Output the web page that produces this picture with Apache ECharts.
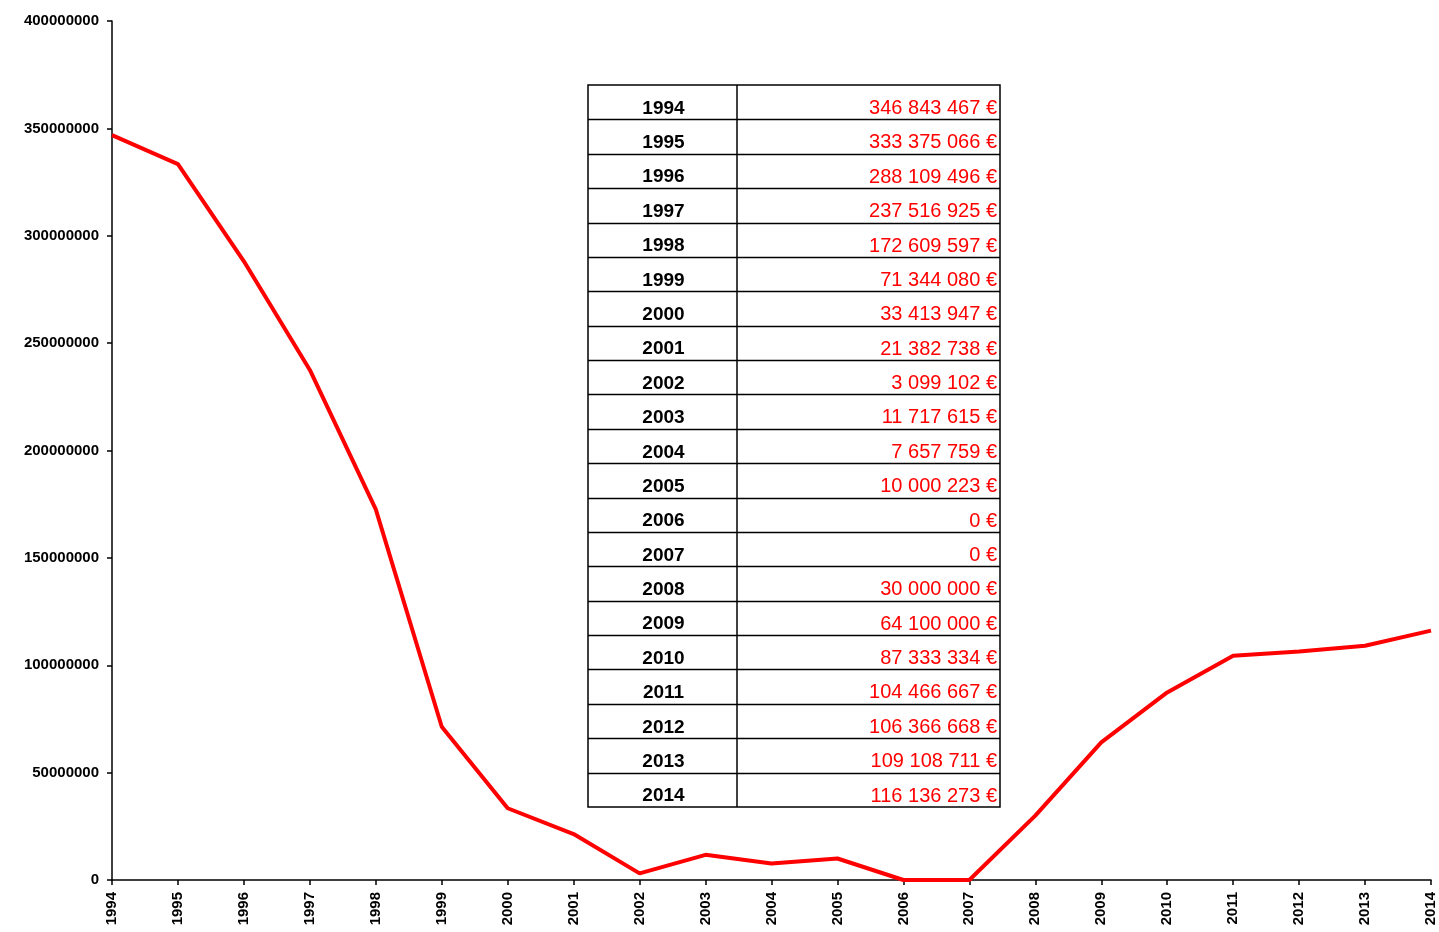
<!DOCTYPE html>
<html>
<head>
<meta charset="utf-8">
<script src="https://cdn.jsdelivr.net/npm/echarts@6/dist/echarts.min.js"></script>
<style>html,body{margin:0;padding:0;background:#fff;}#main{width:1439px;height:932px;}</style>
</head>
<body>
<div id="main"></div>
<script>
const years = ['1994','1995','1996','1997','1998','1999','2000','2001','2002','2003','2004','2005','2006','2007','2008','2009','2010','2011','2012','2013','2014'];
const amounts = [346843467,333375066,288109496,237516925,172609597,71344080,33413947,21382738,3099102,11717615,7657759,10000223,0,0,30000000,64100000,87333334,104466667,106366668,109108711,116136273];
const yTicks = {min:0, max:400000000, interval:50000000};

function fmtEuro(v){
  return String(v).replace(/\B(?=(\d{3})+(?!\d))/g,' ') + ' €';
}

const chart = echarts.init(document.getElementById('main'));

// table overlay
const tL=588, tR=1000, tM=737, tT=85, tB=807;
const rowH=(tB-tT)/years.length;
const g=[];
g.push({type:'rect',shape:{x:tL,y:tT,width:tR-tL,height:tB-tT},style:{fill:'#fff',stroke:'#000',lineWidth:1.5},z:100});
g.push({type:'line',shape:{x1:tM,y1:tT,x2:tM,y2:tB},style:{stroke:'#000',lineWidth:1.5},z:101});
for(let i=1;i<years.length;i++){
  const y=Math.round(tT+i*rowH)+0.5;
  g.push({type:'line',shape:{x1:tL,y1:y,x2:tR,y2:y},style:{stroke:'#000',lineWidth:1.5},z:101});
}
years.forEach((yr,i)=>{
  const cy=tT+i*rowH+23.5;
  g.push({type:'text',x:(tL+tM)/2+1,y:cy,style:{text:yr,fill:'#000',font:'bold 19px "Liberation Sans", Arial, sans-serif',align:'center',verticalAlign:'middle'},z:102});
  g.push({type:'text',x:tR-3,y:cy,style:{text:fmtEuro(amounts[i]),fill:'#ff0000',font:'20px "Liberation Sans", Arial, sans-serif',align:'right',verticalAlign:'middle'},z:102});
});

chart.setOption({
  animation:false,
  backgroundColor:'#fff',
  grid:{left:112,right:8,top:21,bottom:52,containLabel:false},
  xAxis:{
    type:'category',data:years,boundaryGap:false,
    axisLine:{lineStyle:{color:'#000',width:1.5}},
    axisTick:{show:true,length:5,lineStyle:{color:'#000',width:1.5}},
    axisLabel:{rotate:90,color:'#000',fontWeight:'bold',fontSize:15,fontFamily:'"Liberation Sans", Arial, sans-serif',margin:12,interval:0},
    splitLine:{show:false}
  },
  yAxis:{
    type:'value',min:yTicks.min,max:yTicks.max,interval:yTicks.interval,
    axisLine:{show:true,lineStyle:{color:'#000',width:1.5}},
    axisTick:{show:true,length:5,lineStyle:{color:'#000',width:1.5}},
    axisLabel:{color:'#000',fontWeight:'bold',fontSize:15,fontFamily:'"Liberation Sans", Arial, sans-serif',margin:13,formatter:v=>String(v)},
    splitLine:{show:false}
  },
  series:[{
    type:'line',data:amounts,symbol:'none',
    lineStyle:{color:'#ff0000',width:4},
    z:2
  }],
  graphic:g
});
</script>
</body>
</html>
